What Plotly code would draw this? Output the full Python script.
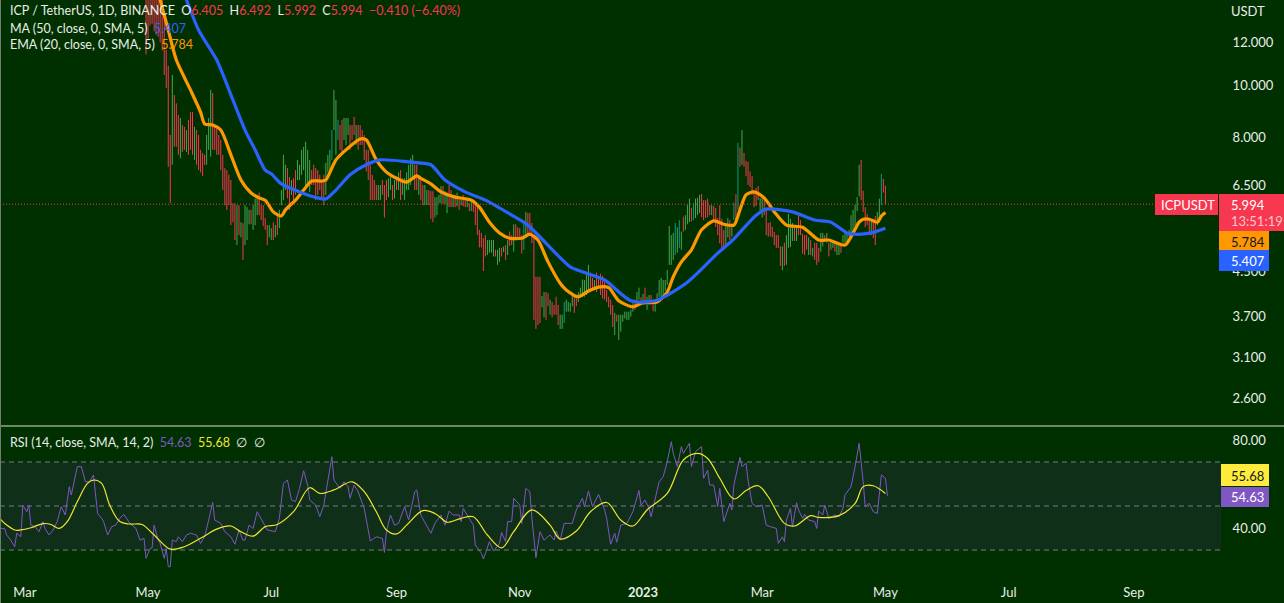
import numpy as np
import pandas as pd
import plotly.graph_objects as go

# daily high / low per candle, first one is 2022-04-30
first_day = '2022-04-30'
highs = [
    15.6,15.1,15.0,14.9,15.2,15.0,14.8,14.7,14.6,13.5,
    11.62,10.85,8.07,10.44,9.58,9.24,8.79,8.68,8.42,8.35,
    8.24,8.61,8.90,8.90,8.35,8.24,8.07,7.57,7.47,7.41,
    8.07,8.68,9.79,9.66,8.42,8.31,8.07,7.90,7.41,7.00,
    6.94,6.80,6.65,6.02,6.02,5.97,5.97,5.55,5.53,5.97,
    5.92,5.85,5.85,5.97,6.14,6.24,6.30,5.97,5.97,5.65,
    5.48,5.48,5.41,5.55,5.48,5.72,5.85,6.37,7.41,7.10,
    7.00,6.73,6.65,6.70,6.94,7.25,7.10,7.57,7.67,7.84,
    7.57,7.25,6.94,7.10,7.00,6.94,6.80,6.65,6.80,7.16,
    7.41,7.57,8.24,9.79,9.38,8.61,8.42,8.61,8.68,
    8.68,8.68,8.42,8.42,8.72,8.42,8.42,8.42,8.24,8.07,
    7.57,7.57,7.10,6.80,6.65,6.51,6.51,6.51,6.65,6.51,
    6.65,6.70,6.80,6.51,6.65,6.70,6.87,6.94,6.70,6.70,
    6.87,7.10,7.30,7.41,7.10,7.10,6.80,6.65,6.51,6.51,
    6.37,6.37,6.34,6.34,6.18,6.18,6.24,6.48,6.48,6.34,
    6.30,6.51,6.37,6.24,6.24,6.30,6.10,6.10,6.24,6.10,
    6.10,6.02,6.10,6.10,6.02,6.02,5.37,5.30,5.18,5.25,
    5.14,5.14,5.14,5.14,4.93,4.93,4.97,4.97,5.00,5.03,
    5.14,5.33,5.25,5.50,5.50,5.43,5.41,5.25,5.53,
    5.80,5.77,5.77,5.53,5.25,4.39,4.39,4.39,4.04,4.11,
    4.11,4.09,3.98,3.94,3.89,4.03,3.89,3.73,3.73,3.94,
    3.98,3.94,3.92,4.11,4.03,4.06,4.11,4.19,4.34,4.33,
    4.45,4.62,4.47,4.37,4.33,4.47,4.37,4.45,4.41,4.33,
    4.15,4.03,3.98,3.89,3.76,3.73,3.73,3.73,3.73,3.78,
    3.78,3.78,3.81,3.92,3.98,4.11,4.19,4.02,4.08,4.19,
    4.03,4.06,4.06,3.98,3.98,4.09,4.33,4.37,4.33,4.33,
    4.52,5.46,5.25,5.30,5.53,5.43,5.60,5.33,5.68,5.72,
    5.97,6.14,5.90,6.02,6.14,6.16,6.24,6.26,6.10,
    6.10,6.14,5.97,5.97,5.95,5.90,5.65,5.97,5.63,5.37,
    5.48,5.65,5.60,5.53,6.04,6.26,7.80,7.64,8.24,7.47,
    7.22,7.19,6.90,6.76,6.37,6.43,6.48,6.16,6.24,6.16,
    5.87,5.53,5.55,5.44,5.32,5.25,5.25,5.00,5.00,5.08,
    5.25,5.75,5.63,5.53,5.48,5.44,5.72,5.60,5.28,5.25,
    5.25,5.20,5.14,4.97,5.08,5.08,4.97,5.30,5.30,5.25,
    5.30,5.08,5.14,5.14,5.08,5.08,5.08,5.08,5.25,5.30,
    5.32,5.37,5.72,5.85,5.97,6.18,7.10,7.25,6.35,5.92,
    5.75,5.63,5.60,5.60,5.70,5.80,6.14,6.83,6.68,6.492,
]
lows = [
    11.4,12.2,12.9,13.0,12.6,12.4,12.3,12.0,11.6,10.44,
    9.87,7.04,6.02,7.10,7.67,7.67,7.41,7.30,7.50,7.57,
    7.50,7.41,7.57,7.41,7.25,7.10,6.94,6.87,6.76,7.10,
    7.10,7.57,7.35,7.57,7.57,7.41,7.41,6.94,6.37,5.97,
    5.85,5.97,5.48,5.55,5.14,5.03,5.25,5.20,4.72,5.03,
    5.14,5.50,5.50,5.37,5.48,5.72,5.72,5.60,5.46,5.37,
    5.03,5.20,5.14,5.14,5.20,5.25,5.41,5.97,6.10,6.37,
    6.15,5.85,6.24,6.10,6.24,6.65,6.65,6.80,6.94,6.37,
    6.51,6.32,6.51,6.51,6.10,6.24,6.37,6.10,5.97,6.24,
    6.87,6.80,7.25,8.24,7.41,7.90,7.57,7.41,7.90,
    7.73,8.07,7.57,7.90,8.07,7.73,7.57,7.73,7.73,7.25,
    6.90,6.65,6.10,6.10,6.10,6.10,6.10,6.10,6.24,5.66,
    6.10,6.18,6.37,6.10,6.14,6.37,6.37,6.10,6.24,6.10,
    6.37,6.37,6.51,6.65,6.37,6.37,6.24,6.10,5.97,5.97,
    5.97,5.97,5.63,5.55,5.66,5.72,6.02,6.02,6.00,6.00,
    5.77,5.92,5.92,5.92,5.92,5.94,5.85,5.97,5.94,5.92,
    5.92,5.82,5.82,5.80,5.48,5.25,4.98,4.98,4.50,4.79,
    4.82,4.87,4.87,4.79,4.79,4.62,4.68,4.79,4.88,4.72,
    4.82,5.01,5.03,4.89,5.14,5.14,5.14,4.85,4.93,
    5.25,5.25,5.25,5.07,3.65,3.51,3.57,3.60,3.85,3.69,
    3.65,3.87,3.73,3.69,3.73,3.73,3.57,3.51,3.51,3.60,
    3.78,3.78,3.78,3.87,3.76,3.87,3.94,4.01,4.03,4.03,
    4.06,4.15,4.11,4.15,4.20,4.11,4.22,4.06,4.00,3.98,
    3.94,3.85,3.73,3.54,3.42,3.62,3.35,3.47,3.62,3.67,
    3.65,3.65,3.70,3.78,3.81,3.87,3.98,3.89,3.89,3.89,
    3.81,3.89,3.89,3.79,3.78,3.94,4.03,4.03,4.06,4.13,
    4.24,4.62,4.62,4.72,4.82,4.87,4.97,4.93,5.33,5.37,
    5.50,5.55,5.57,5.60,5.65,5.72,5.77,5.67,5.60,
    5.65,5.67,5.72,5.72,5.60,5.44,5.25,5.07,4.93,4.97,
    5.03,5.20,5.14,5.22,5.60,5.60,5.85,7.04,7.10,7.04,
    6.76,6.51,6.45,6.24,5.92,5.95,6.10,5.75,5.66,5.72,
    5.25,5.22,5.22,5.20,5.03,4.97,4.97,4.60,4.52,4.60,
    4.62,4.97,4.99,5.12,5.12,5.12,5.25,5.25,4.85,4.82,
    4.93,4.82,4.82,4.79,4.72,4.62,4.68,4.89,5.00,5.11,
    5.08,4.79,4.93,4.97,4.89,4.82,4.82,4.86,5.08,5.08,
    5.08,5.22,5.25,5.32,5.46,5.82,6.20,6.10,5.80,5.43,
    5.48,5.25,5.25,5.18,5.03,5.48,5.60,5.97,6.30,5.992,
]
# r = down, g = up, t = up with teal body
bar_kind = (
    'rrrrrrrrrr' 'rrrgrrrgrr' 'grrrgrrrrr' 'gggrrrrrrr' 'rrrrrgrgrg'
    'ggrgggrrrr' 'rggrgrgggg' 'rrgrrggggg' 'ggrrrrrrrg' 'ggtggtrrg'
    'ggrrrgrrrr' 'rrrrrrggrr' 'rggrgrgrgg' 'ggggrrgrrg' 'grrrggggrg'
    'grrgrgrgrr' 'grgrrrrrrr' 'ggggrggrgr' 'grrgrrrrt' 'grrrrrrrgg'
    'rrgrrrrggt' 'ggggrrgggg' 'ggrrgrrrrr' 'rrrrgrgggg' 'ggggrggrgr'
    'ggrrgggggg' 'ggggtgtgrg' 'ggrtgggrr' 'rrrgrrrrrr' 'ggrgtrtrgr'
    'rrrrrrrggr' 'rrrrrrrrgr' 'ggggrgrrrr' 'rgrgrrrggr' 'grggrggrgg'
    'gggggggrrr' 'rrgrrggtrr'
)

ma_dates = ['2022-05-15','2022-05-20','2022-05-26','2022-06-04','2022-06-12','2022-06-18','2022-06-23','2022-06-28',
            '2022-07-01','2022-07-06','2022-07-15','2022-07-24','2022-07-28','2022-08-02','2022-08-09','2022-08-17',
            '2022-08-24','2022-09-07','2022-09-12','2022-09-18','2022-09-25','2022-10-05','2022-10-15','2022-10-28',
            '2022-11-05','2022-11-26','2022-12-03','2022-12-13','2022-12-26','2023-01-07','2023-01-23','2023-02-07',
            '2023-02-14','2023-02-26','2023-03-03','2023-03-16','2023-03-27','2023-04-04','2023-04-12','2023-04-16',
            '2023-04-24','2023-05-01']
ma_vals = [15.9,14.4,12.66,11.13,9.38,8.24,7.57,6.94,
           6.83,6.54,6.32,6.16,6.13,6.37,6.80,7.10,
           7.25,7.19,7.16,7.10,6.65,6.32,6.10,5.72,
           5.48,4.58,4.47,4.33,3.96,3.96,4.29,4.86,
           5.12,5.72,5.87,5.80,5.60,5.55,5.30,5.27,
           5.30,5.407]

ema_dates = ['2022-05-04','2022-05-07','2022-05-11','2022-05-15','2022-05-22','2022-05-27','2022-05-29','2022-06-02',
             '2022-06-06','2022-06-11','2022-06-16','2022-06-21','2022-06-25','2022-06-28','2022-07-02','2022-07-06',
             '2022-07-08','2022-07-13','2022-07-17','2022-07-21','2022-07-26','2022-07-28','2022-08-02','2022-08-07',
             '2022-08-14','2022-08-17','2022-08-22','2022-08-27','2022-09-01','2022-09-06','2022-09-11','2022-09-13',
             '2022-09-18','2022-09-23','2022-09-30','2022-10-08','2022-10-12','2022-10-17','2022-10-22','2022-10-27',
             '2022-11-02','2022-11-06','2022-11-10','2022-11-15','2022-11-21','2022-11-24','2022-11-30','2022-12-05',
             '2022-12-10','2022-12-15','2022-12-20','2022-12-27','2023-01-01','2023-01-08','2023-01-13','2023-01-16',
             '2023-01-20','2023-01-25','2023-01-30','2023-02-05','2023-02-10','2023-02-15','2023-02-18','2023-02-21',
             '2023-02-25','2023-03-02','2023-03-07','2023-03-13','2023-03-21','2023-03-29','2023-04-03','2023-04-11',
             '2023-04-15','2023-04-18','2023-04-20','2023-04-23','2023-04-27','2023-04-29','2023-05-01']
ema_vals = [15.7,14.4,12.66,11.13,9.79,8.90,8.46,8.42,
            8.24,7.41,6.65,6.29,6.16,6.10,5.80,5.70,
            5.85,6.10,6.37,6.62,6.62,6.65,7.25,7.57,
            7.93,7.90,7.25,6.88,6.70,6.59,6.77,6.70,
            6.54,6.32,6.18,6.10,5.92,5.55,5.30,5.18,
            5.18,5.27,5.14,4.68,4.27,4.15,4.03,4.13,
            4.20,4.19,3.96,3.86,3.93,3.94,4.11,4.39,
            4.68,4.93,5.37,5.58,5.50,5.48,5.85,6.24,
            6.32,6.16,5.80,5.48,5.43,5.14,5.14,5.03,
            5.30,5.55,5.62,5.62,5.55,5.70,5.784]

# RSI is read at uneven spots, days counted from rsi_origin
rsi_origin = '2022-02-17'
rsi_days = [0,2,3,5,7,8,10,11,13,14,15,17,19,21,22,24,26,28,30,32,34,35,38,40,42,44,46,47,48,50,
            51,53,55,57,59,61,64,67,69,71,72,74,75,76,78,79,81,82,83,84,85,87,88,90,92,94,97,99,101,103,
            105,106,109,111,114,116,118,120,121,123,125,127,130,132,136,138,140,142,144,146,148,150,152,153,156,158,160,162,164,165,
            168,170,172,173,175,177,180,183,186,189,190,191,193,195,197,200,202,205,206,208,211,213,215,218,220,222,
            224,227,228,229,232,234,235,238,239,242,244,247,248,250,251,253,254,257,258,260,262,263,265,267,269,271,
            272,274,275,277,279,283,285,288,289,291,293,296,299,300,302,304,305,307,310,313,316,317,319,321,322,326,
            328,330,332,333,335,337,338,341,342,344,347,348,350,351,353,355,356,358,361,362,363,366,367,369,370,372,
            374,377,379,381,384,385,387,388,389,391,392,394,395,397,398,400,403,404,405,407,408,410,413,415,417,418,
            421,423,424,425,427,428,430,432,434,435,436,438,439]
rsi_vals = [39.8,39.8,36.8,34.5,31.5,37.6,36.0,50.4,47.4,50.4,41.3,40.6,38.3,42.9,39.8,36.8,39.1,42.9,49.7,45.9,58.8,55.0,67.9,67.9,61.0,61.0,64.1,55.0,46.6,44.4,
            42.9,36.8,40.6,41.3,44.4,46.2,42.1,39.8,34.5,35.3,26.2,30.7,31.0,41.3,34.5,33.0,26.2,30.7,22.4,22.4,34.5,33.8,36.0,33.8,36.8,37.6,36.8,33.0,36.0,43.6,
            51.6,43.6,42.1,38.3,36.0,32.6,39.1,34.5,34.5,41.3,39.8,47.4,42.1,39.1,38.3,44.4,60.3,61.8,52.7,52.0,58.0,66.0,59.5,52.7,50.4,45.1,50.4,61.0,72.4,61.8,
            58.0,61.0,58.8,53.5,59.5,56.5,48.9,34.1,36.0,35.3,28.9,38.3,45.9,41.3,42.1,49.7,43.6,56.5,57.3,45.9,41.3,37.6,42.1,45.9,41.3,47.7,
            45.9,45.9,42.9,48.9,44.4,41.3,32.3,28.5,25.9,33.8,29.5,33.0,38.0,33.8,42.9,42.9,53.5,50.4,42.1,58.0,56.5,44.4,26.5,38.3,34.5,36.0,
            36.8,34.5,38.6,34.5,42.1,42.1,48.2,53.5,49.7,56.8,49.7,55.3,48.2,44.4,32.6,37.6,33.5,41.3,42.1,47.4,57.0,50.4,52.7,48.9,45.1,61.0,
            63.3,70.1,79.2,73.9,67.9,77.0,73.9,78.5,67.9,74.7,77.0,62.6,66.3,59.5,59.5,49.7,58.0,42.9,51.2,48.2,59.5,72.1,67.9,69.4,61.8,51.2,
            49.7,50.4,41.3,40.6,39.8,33.0,36.0,33.8,43.6,48.9,40.6,51.5,48.2,44.4,46.2,43.6,42.9,39.8,47.7,45.9,50.4,44.4,45.9,45.1,48.9,55.0,
            58.8,67.9,72.4,78.5,61.0,49.7,51.2,47.4,46.6,54.2,64.1,62.6,54.63]

signal_days = [0,2,7,10,15,21,25,29,33,38,43,46,50,54,59,64,70,76,84,91,99,107,114,119,125,131,137,145,153,158,165,174,180,186,191,196,201,209,215,221,
               223,228,234,241,248,254,263,272,277,285,292,300,307,313,320,330,338,345,350,356,363,369,375,380,388,393,401,405,415,423,427,432,438]
signal_vals = [43.9,42.1,39.1,39.1,40.1,42.0,41.6,39.8,42.9,52.0,60.3,61.8,60.3,50.4,42.9,41.8,41.6,36.8,30.4,31.5,35.3,39.5,40.9,38.3,36.3,40.6,41.6,47.4,58.3,55.7,57.3,61.0,56.5,47.4,39.1,37.3,41.3,47.9,46.6,42.6,
               42.9,44.4,45.1,36.8,31.0,38.3,48.2,41.3,35.0,38.6,47.4,51.6,43.6,40.9,48.2,55.7,70.9,73.9,71.6,62.6,53.2,57.0,59.2,54.2,42.1,40.9,45.6,44.8,45.6,51.2,58.8,59.2,55.68]

price_ticks = [12, 10, 8, 6.5, 4.5, 3.7, 3.1, 2.6]
rsi_ticks = [80, 40]
rsi_levels = [70, 50, 30]
month_ticks = ['2022-03-01','2022-05-01','2022-07-01','2022-09-01','2022-11-01','2023-01-01','2023-03-01','2023-05-01','2023-07-01','2023-09-01']
month_labels = ['Mar','May','Jul','Sep','Nov','<b>2023</b>','Mar','May','Jul','Sep']
last_close = 5.994

BG = '#013000'
BAND = '#0f2f19'
RED = '#f7374f'
GREEN = '#46a552'
TEAL = '#089981'
ORANGE = '#ff9800'
BLUE = '#2962ff'
PURPLE = '#7e57c2'
YELLOW = '#f0e62e'
TXT = '#e8eee8'
FONT = 'Lato, "Open Sans", sans-serif'

W, H = 1284, 603


def px(x):
    return x / W


def py(y):
    return 1 - y / H


def bar_trace(kind, color):
    days = pd.date_range(first_day, periods=len(highs))
    xs, ys = [], []
    for d, hi, lo, k in zip(days, highs, lows, bar_kind):
        if k == kind:
            xs += [d, d, None]
            ys += [lo, hi, None]
    return go.Scatter(x=xs, y=ys, mode='lines', line=dict(color=color, width=1), hoverinfo='skip',
                      yaxis='y', xaxis='x')


print(len(highs), len(lows), len(bar_kind))

fig = go.Figure()
fig.add_trace(bar_trace('g', GREEN))
fig.add_trace(bar_trace('t', TEAL))
fig.add_trace(bar_trace('r', RED))
fig.add_trace(go.Scatter(x=ema_dates, y=ema_vals, mode='lines', line=dict(color=ORANGE, width=3.2, shape='spline', smoothing=0.7), hoverinfo='skip'))
fig.add_trace(go.Scatter(x=ma_dates, y=ma_vals, mode='lines', line=dict(color=BLUE, width=3.2, shape='spline', smoothing=0.7), hoverinfo='skip'))

origin = pd.Timestamp(rsi_origin)
rsi_x = [origin + pd.Timedelta(days=d) for d in rsi_days]
signal_x = [origin + pd.Timedelta(days=d) for d in signal_days]
fig.add_trace(go.Scatter(x=rsi_x, y=rsi_vals, mode='lines', line=dict(color=PURPLE, width=1), yaxis='y2', hoverinfo='skip'))
fig.add_trace(go.Scatter(x=signal_x, y=signal_vals, mode='lines', line=dict(color=YELLOW, width=1.2, shape='spline'), yaxis='y2', hoverinfo='skip'))

shapes = [
    # rsi band and levels
    dict(type='rect', xref='x domain', x0=0, x1=1, yref='y2', y0=rsi_levels[2], y1=rsi_levels[0], fillcolor=BAND, line_width=0, layer='below'),
    # last price line
    dict(type='line', xref='paper', x0=0, x1=px(1153), yref='y', y0=last_close, y1=last_close, line=dict(color=RED, width=1, dash='1px,2px')),
    # panel separator and left edge
    dict(type='line', xref='paper', x0=0, x1=1, yref='paper', y0=py(426), y1=py(426), line=dict(color='#d8ded8', width=1)),
    dict(type='line', xref='paper', x0=px(0.5), x1=px(0.5), yref='paper', y0=0, y1=1, line=dict(color='#6f7f6f', width=1)),
]
for lv in rsi_levels:
    shapes.append(dict(type='line', xref='x domain', x0=0, x1=1, yref='y2', y0=lv, y1=lv,
                       line=dict(color='#787b86', width=1, dash='5px,4px'), layer='below'))


def box(x0, y0, x1, y1, color):
    shapes.append(dict(type='rect', xref='paper', yref='paper', x0=px(x0), x1=px(x1), y0=py(y0), y1=py(y1),
                       fillcolor=color, line_width=0))


box(1155, 194, 1218, 215, RED)
box(1219, 194, 1284, 231, RED)
box(1219, 231, 1269, 250, ORANGE)
box(1219, 250, 1269, 271, BLUE)
box(1221, 464, 1269, 486, '#ffeb3b')
box(1221, 487, 1269, 507, PURPLE)

anns = []


def label(x, y, text, color=TXT, size=13):
    anns.append(dict(xref='paper', yref='paper', x=px(x), y=py(y), text=text, showarrow=False, xanchor='left',
                     yanchor='middle', font=dict(color=color, size=size, family=FONT)))


def col(text, c):
    return f'<span style="color:{c}">{text}</span>'


label(8, 10.5, 'ICP / TetherUS, 1D, BINANCE  O' + col('6.405', RED) + '  H' + col('6.492', RED) + '  L' + col('5.992', RED)
      + '  C' + col('5.994', RED) + '  ' + col('−0.410 (−6.40%)', RED), size=12.5)
label(8, 28, 'MA (50, close, 0, SMA, 5)  ' + col('5.407', BLUE), size=12.5)
label(8, 45, 'EMA (20, close, 0, SMA, 5)  ' + col('5.784', ORANGE), size=12.5)
label(8, 442, 'RSI (14, close, SMA, 14, 2)  ' + col('54.63', PURPLE) + '  ' + col('55.68', YELLOW) + '  ∅  ∅', size=12.5)
label(1229, 11, 'USDT')
label(1159, 205, 'ICPUSDT', '#ffffff')
label(1229, 205, '5.994', '#ffffff')
label(1229, 221, '13:51:19', '#fcc4cc')
label(1229, 242, '5.784', '#131722')
label(1229, 261, '5.407', '#ffffff')
label(1229, 476, '55.68', '#131722')
label(1229, 497, '54.63', '#ffffff')

fig.update_layout(
    width=W, height=H, autosize=False, margin=dict(l=0, r=0, t=0, b=0),
    paper_bgcolor=BG, plot_bgcolor=BG, showlegend=False, shapes=shapes, annotations=anns,
    font=dict(family=FONT, color=TXT, size=13),
    xaxis=dict(domain=[0, 1221 / W], range=['2022-02-16 17:00', '2023-10-14 03:00'], anchor='y2', type='date',
               tickmode='array', tickvals=month_ticks, ticktext=month_labels, showgrid=False, zeroline=False,
               showline=False, ticks='outside', ticklen=8, tickcolor='rgba(0,0,0,0)', tickfont=dict(size=13, color=TXT)),
    yaxis=dict(domain=[py(426), 1], type='log', range=[np.log10(2.314), np.log10(14.40)], side='right', anchor='x',
               tickmode='array', tickvals=price_ticks, ticktext=[f'{t:.3f}' for t in price_ticks], showgrid=False,
               zeroline=False, showline=False, ticks='outside', ticklen=8, tickcolor='rgba(0,0,0,0)'),
    yaxis2=dict(domain=[py(572), py(427)], range=[20, 85.9], side='right', anchor='x',
                tickmode='array', tickvals=rsi_ticks, ticktext=[f'{t:.2f}' for t in rsi_ticks], showgrid=False,
                zeroline=False, showline=False, ticks='outside', ticklen=8, tickcolor='rgba(0,0,0,0)'),
)

fig.write_html("out.html", config=dict(displayModeBar=False), post_script="document.body.style.margin='0';")
